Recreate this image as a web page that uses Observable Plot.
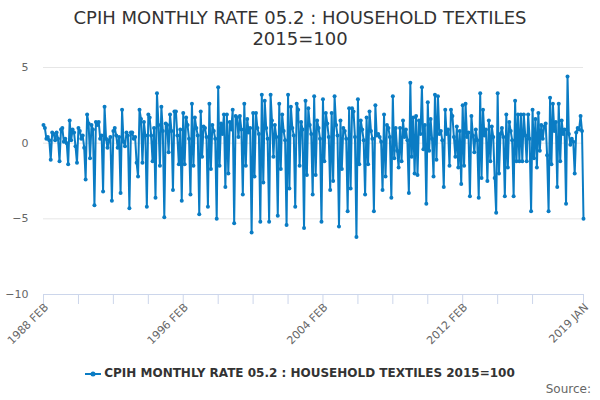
<!DOCTYPE html>
<html>
<head>
<meta charset="utf-8">
<script src="https://cdn.jsdelivr.net/npm/d3@7"></script>
<script src="https://cdn.jsdelivr.net/npm/@observablehq/plot@0.6"></script>
<style>
  html, body { margin: 0; padding: 0; background: #fff; }
  #wrap { position: relative; width: 600px; height: 400px; overflow: hidden; font-family: "DejaVu Sans", sans-serif; }
  #title { position: absolute; top: 7px; left: 0; width: 600px; text-align: center; font-size: 18px; line-height: 21px; color: #333; }
  #chart { position: absolute; top: 50px; left: 0; }
  #legend { position: absolute; top: 366px; left: 0; width: 600px; text-align: center; font-size: 12px; font-weight: bold; color: #333; }
  #legend svg { vertical-align: middle; margin-right: 3px; }
  #source { position: absolute; top: 382px; right: 9px; font-size: 12px; color: #666; }
</style>
</head>
<body>
<div id="wrap">
  <div id="title"></div>
  <div id="chart"></div>
  <div id="legend"></div>
  <div id="source">Source:</div>
</div>
<script>
const titleLines = ["CPIH MONTHLY RATE 05.2 : HOUSEHOLD TEXTILES", "2015=100"];
const seriesName = "CPIH MONTHLY RATE 05.2 : HOUSEHOLD TEXTILES 2015=100";

// Monthly rates, starting 1988 FEB
const rates1988_1995 = [
  1.2, 1.0, 0.3, 0.4, 0.2, -1.1, 0.7, 0.6, 0.2, 0.7, 0.3,
  -1.2, 0.9, 1.0, 0.1, 0.3, 0.0, -1.4, 1.5, 0.2, 0.9, 0.7, -0.2,
  -1.3, 1.0, 0.8, 0.3, 0.5, -0.3, -2.4, 1.9, 1.3, -1.0, 1.2, 0.9,
  -4.1, 1.4, 1.2, 1.4, 0.3, 0.5, -3.2, 2.4, 0.3, -0.3, 0.2, 0.4,
  -3.8, 0.8, 1.0, 0.5, -0.3, 0.4, -3.3, 2.2, 0.1, -0.2, 0.7, 0.5,
  -4.3, 0.7, 0.7, 0.3, 0.4, -1.3, -2.2, 2.2, 1.6, -1.3, 1.4, 0.5,
  -4.2, 1.9, 1.7, 0.5, -1.2, 1.0, -3.6, 3.3, 1.2, -1.5, 2.4, 0.8,
  -4.9, 1.3, 1.2, -0.6, 1.9, 0.8, -3.1, 2.1, 2.1, 0.5, -1.4, 0.9
];
const rates1996_2003 = [
  -3.8, 2.0, -1.4, 1.7, 1.2, 0.3, -3.4, 2.6, -1.5, 1.7, 1.0, 0.5,
  -4.7, 2.1, -0.9, 1.1, 1.0, 0.4, -4.2, 2.6, -1.7, 1.2, 0.8, 0.3,
  -5.0, 3.7, -1.5, 1.3, 0.6, 1.9, -2.9, 1.9, -2.0, 1.4, 0.9, 2.2,
  -5.3, 1.8, 1.7, 0.4, 1.8, 0.9, -3.4, 2.6, -1.5, 1.6, 0.7, 1.0,
  -5.9, 2.0, -2.2, 2.0, 1.0, 0.6, -5.2, 3.2, -2.6, 2.8, 1.0, 0.3,
  -5.2, 3.2, 1.5, -0.9, 1.2, 0.4, -4.8, 2.6, -1.7, 1.9, 0.8, 0.2,
  -5.4, 3.2, -3.0, 2.4, 1.0, 0.5, -4.2, 2.6, 2.2, -1.5, 1.4, 0.9,
  -5.6, 2.8, -2.1, 2.3, 1.2, 0.6, -3.4, 3.1, -2.1, 1.5, 1.0, 0.3
];
const rates2004_2011 = [
  -5.2, 2.9, -1.2, 2.0, 1.3, 0.4, -3.1, 2.0, -2.5, 3.1, 1.2, 0.5,
  -5.5, 1.5, -1.7, 1.0, 0.8, 0.3, -4.5, 2.3, -3.0, 2.3, 2.1, 0.4,
  -6.2, 2.9, -1.4, 1.5, 0.9, 0.2, -3.4, 1.7, -1.4, 2.1, 0.8, 0.3,
  -4.5, 2.5, 0.5, 0.6, 0.4, 0.1, -3.1, 1.9, -2.2, 1.2, 1.0, 0.4,
  -3.6, 3.1, -1.0, 1.0, -0.5, -1.6, 1.0, -1.2, 1.5, 0.4, 0.9, 0.2,
  -3.3, 4.0, -0.9, 1.7, -2.0, 1.8, -2.1, 1.5, 0.6, 3.7, -0.4, 1.2,
  -4.0, 2.7, -0.5, 1.6, 0.3, -2.2, 3.2, -1.1, 3.1, 0.6, 0.8, 0.2,
  -2.9, 2.2, 0.6, 0.9, -1.5, 2.2, 1.8, 0.4, -0.9, 1.1, -1.6, 0.8
];
const rates2012_2019 = [
  -2.7, 2.5, -1.5, 2.6, 0.4, 0.7, -3.5, 1.8, 0.5, -0.6, 0.9, 0.2,
  -3.6, 3.3, -2.3, 2.2, 0.5, 0.9, -2.5, 1.5, -1.2, 1.1, 0.4, -2.3,
  -4.6, 3.3, -2.0, 0.6, 1.0, 0.4, -3.5, 1.9, -1.6, 1.4, 0.8, 0.2,
  -3.5, 2.8, -1.2, 1.9, -1.2, 1.9, -1.2, 1.9, 0.5, -1.2, 1.9, 0.3,
  -4.5, 2.2, -1.0, 1.6, -1.6, 2.0, -0.5, 1.2, 0.3, 1.1, 1.3, -0.8,
  -4.5, 3.0, -1.4, 2.6, 0.8, 1.4, -2.9, 2.6, -1.2, 1.5, 0.6, 0.9,
  -4.0, 4.4, 0.6, -0.1, 0.3, 0.1, -2.0, 0.7, 1.0, 0.9, 1.8, 0.8,
  -5.0
];
const yTicks = [5, 0, -5, -10];
const monthNames = ["JAN","FEB","MAR","APR","MAY","JUN","JUL","AUG","SEP","OCT","NOV","DEC"];
const labelledTicks = ["1988 FEB", "1996 FEB", "2004 FEB", "2012 FEB", "2019 JAN"];

const values = [...rates1988_1995, ...rates1996_2003, ...rates2004_2011, ...rates2012_2019];
const data = values.map((v, i) => ({ date: new Date(Date.UTC(1988, 1 + i, 1)), value: v }));
const first = data[0].date, last = data[data.length - 1].date;
const fmt = d => d.getUTCFullYear() + " " + monthNames[d.getUTCMonth()];

const tickDates = [];
for (let i = 0; i < data.length - 12; i += 24) tickDates.push(data[i].date);
tickDates.push(last);
const labelData = tickDates.filter(d => labelledTicks.includes(fmt(d))).map(d => ({ date: d, text: fmt(d) }));

document.getElementById("title").innerHTML = titleLines.join("<br>");

const color = "#0a7cc4";
const chart = Plot.plot({
  width: 600,
  height: 300,
  marginTop: 17,
  marginBottom: 56,
  marginLeft: 43,
  marginRight: 17,
  style: { fontFamily: "DejaVu Sans, sans-serif", background: "#fff" },
  x: { type: "utc", domain: [first, last] },
  y: { domain: [-10, 5] },
  marks: [
    Plot.ruleY([5, 0, -5], { stroke: "#e6e6e6", strokeWidth: 1 }),
    Plot.ruleY([-10], { stroke: "#ccd6eb", strokeWidth: 1 }),
    Plot.axisX({ ticks: tickDates, tickSize: 10, stroke: "#ccd6eb", strokeOpacity: 1, tickFormat: () => "", label: null }),
    Plot.axisY({ ticks: yTicks, tickSize: 0, tickPadding: 15, fontSize: 11, fill: "#666", label: null }),
    Plot.text(labelData, { x: "date", y: -10, text: "text", rotate: -45, textAnchor: "end", dx: 3, dy: 11, fontSize: 11, fill: "#666" }),
    Plot.line(data, { x: "date", y: "value", stroke: color, strokeWidth: 2 }),
    Plot.dot(data, { x: "date", y: "value", r: 2, fill: color, stroke: "none" })
  ]
});
document.getElementById("chart").appendChild(chart);

document.getElementById("legend").innerHTML =
  `<svg width="16" height="12"><line x1="0" y1="6" x2="16" y2="6" stroke="${color}" stroke-width="2"/><circle cx="8" cy="6" r="2.5" fill="${color}"/></svg>` +
  seriesName;
</script>
</body>
</html>
